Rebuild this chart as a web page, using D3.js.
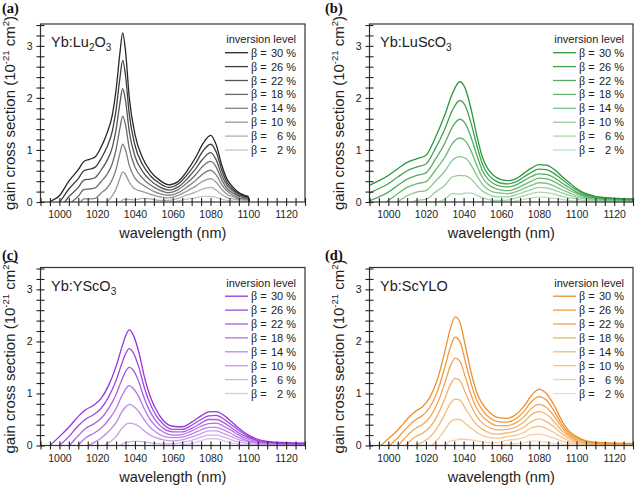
<!DOCTYPE html>
<html><head><meta charset="utf-8">
<script src="https://cdn.jsdelivr.net/npm/d3@7"></script>
<style>body{margin:0;background:#fff} svg{display:block}</style>
</head><body>
<svg id="chart" width="636" height="486"></svg>
<script>
// ---------------- DATA ----------------
const betas = [30, 26, 22, 18, 14, 10, 6, 2];
const xTickValues = [990,995,1000,1005,1010,1015,1020,1025,1030,1035,1040,1045,1050,1055,1060,1065,1070,1075,1080,1085,1090,1095,1100,1105,1110,1115,1120,1125,1130];
const xTickLabels = [1000, 1020, 1040, 1060, 1080, 1100, 1120];
const yTickValues = [0,0.2,0.4,0.6,0.8,1,1.2,1.4,1.6,1.8,2,2.2,2.4,2.6,2.8,3,3.2,3.4];
const yTickLabels = [0, 1, 2, 3];
const panelLetters = ["(a)", "(b)", "(c)", "(d)"];
// host names: [text, isSubscript]
const hostA = [["Yb:Lu",0],["2",1],["O",0],["3",1]];
const hostB = [["Yb:LuScO",0],["3",1]];
const hostC = [["Yb:YScO",0],["3",1]];
const hostD = [["Yb:ScYLO",0]];

// each row: gain at one wavelength for beta = 30,26,22,18,14,10,6,2 %
const wlA = [990,995,1000,1005,1010,1013,1016,1019,1022,1025,1028,1030,1032,1033.5,1035,1037,1040,1044,1048,1053,1058,1063,1068,1072,1076,1080,1083,1086,1089,1092,1095,1098,1100,1100.5];
const gainA = [
 [-0.2,-0.28,-0.36,-0.44,-0.52,-0.6,-0.68,-0.76],
 [0,-0.1,-0.2,-0.3,-0.4,-0.5,-0.6,-0.7],
 [0.12,0,-0.12,-0.24,-0.36,-0.48,-0.6,-0.72],
 [0.4,0.25,0.1,-0.05,-0.2,-0.35,-0.5,-0.65],
 [0.62,0.45,0.28,0.11,-0.06,-0.23,-0.4,-0.57],
 [0.78,0.6,0.42,0.24,0.06,-0.12,-0.3,-0.48],
 [0.82,0.63,0.44,0.25,0.06,-0.13,-0.32,-0.51],
 [0.87,0.67,0.47,0.27,0.07,-0.13,-0.33,-0.53],
 [1.05,0.83,0.61,0.39,0.17,-0.05,-0.27,-0.49],
 [1.3,1.04,0.78,0.52,0.26,0,-0.26,-0.52],
 [1.67,1.36,1.05,0.74,0.43,0.12,-0.19,-0.5],
 [2.15,1.77,1.39,1.01,0.63,0.25,-0.13,-0.51],
 [2.85,2.37,1.89,1.41,0.93,0.45,-0.03,-0.51],
 [3.25,2.72,2.18,1.65,1.11,0.58,0.04,-0.5],
 [2.9,2.43,1.95,1.48,1.0,0.53,0.05,-0.43],
 [2.0,1.68,1.35,1.03,0.7,0.38,0.05,-0.28],
 [1.3,1.09,0.88,0.67,0.46,0.25,0.04,-0.17],
 [0.85,0.72,0.59,0.46,0.33,0.2,0.07,-0.06],
 [0.6,0.51,0.42,0.33,0.24,0.15,0.06,-0.03],
 [0.42,0.36,0.29,0.23,0.16,0.1,0.03,-0.04],
 [0.33,0.28,0.23,0.18,0.13,0.08,0.03,-0.02],
 [0.4,0.35,0.29,0.24,0.18,0.13,0.07,0.02],
 [0.62,0.54,0.46,0.38,0.3,0.22,0.14,0.06],
 [0.85,0.74,0.63,0.52,0.41,0.3,0.19,0.08],
 [1.12,0.98,0.83,0.69,0.54,0.4,0.25,0.11],
 [1.28,1.11,0.95,0.78,0.61,0.45,0.28,0.11],
 [1.1,0.96,0.81,0.67,0.52,0.38,0.23,0.09],
 [0.7,0.61,0.51,0.42,0.33,0.24,0.14,0.05],
 [0.42,0.36,0.31,0.25,0.2,0.14,0.08,0.03],
 [0.28,0.24,0.21,0.17,0.13,0.1,0.06,0.02],
 [0.18,0.16,0.13,0.11,0.08,0.06,0.04,0.01],
 [0.13,0.11,0.1,0.08,0.06,0.05,0.03,0.01],
 [0.1,0.09,0.07,0.06,0.05,0.04,0.02,0.01],
 [0,0,0,0,0,0,0,0]
];

const wlB = [990,995,1000,1005,1010,1015,1020,1025,1030,1034,1038,1041,1044,1047,1050,1053,1056,1060,1064,1068,1072,1076,1080,1084,1088,1092,1096,1100,1105,1110,1120,1130];
const gainB = [
 [0.32,0.17,0.02,-0.13,-0.28,-0.43,-0.58,-0.73],
 [0.41,0.26,0.1,-0.06,-0.21,-0.37,-0.52,-0.68],
 [0.51,0.35,0.19,0.03,-0.13,-0.29,-0.45,-0.61],
 [0.64,0.48,0.32,0.16,0,-0.16,-0.32,-0.48],
 [0.76,0.6,0.44,0.28,0.12,-0.04,-0.2,-0.36],
 [0.83,0.67,0.51,0.35,0.19,0.03,-0.13,-0.29],
 [0.9,0.73,0.56,0.39,0.22,0.05,-0.12,-0.29],
 [1.24,1.03,0.82,0.61,0.4,0.19,-0.02,-0.23],
 [1.67,1.4,1.13,0.86,0.59,0.32,0.05,-0.22],
 [2.08,1.76,1.44,1.12,0.8,0.48,0.16,-0.16],
 [2.31,1.95,1.59,1.23,0.87,0.51,0.15,-0.21],
 [2.17,1.84,1.5,1.17,0.84,0.5,0.17,-0.16],
 [1.78,1.51,1.24,0.98,0.71,0.44,0.17,-0.1],
 [1.28,1.09,0.9,0.7,0.51,0.32,0.13,-0.06],
 [0.86,0.73,0.6,0.47,0.34,0.21,0.08,-0.05],
 [0.63,0.53,0.44,0.34,0.24,0.15,0.05,-0.05],
 [0.51,0.43,0.35,0.27,0.19,0.11,0.03,-0.05],
 [0.43,0.36,0.3,0.23,0.17,0.1,0.03,-0.03],
 [0.41,0.35,0.29,0.22,0.16,0.1,0.04,-0.02],
 [0.45,0.39,0.33,0.26,0.2,0.14,0.08,0.02],
 [0.55,0.48,0.41,0.33,0.26,0.19,0.12,0.05],
 [0.65,0.57,0.49,0.4,0.32,0.24,0.16,0.08],
 [0.72,0.63,0.54,0.46,0.37,0.28,0.19,0.1],
 [0.71,0.62,0.53,0.45,0.36,0.27,0.18,0.09],
 [0.63,0.55,0.47,0.39,0.31,0.23,0.15,0.07],
 [0.5,0.44,0.37,0.31,0.24,0.18,0.11,0.05],
 [0.38,0.33,0.28,0.23,0.18,0.13,0.08,0.03],
 [0.26,0.23,0.19,0.16,0.12,0.09,0.06,0.02],
 [0.16,0.14,0.12,0.1,0.08,0.06,0.03,0.01],
 [0.11,0.1,0.08,0.07,0.05,0.04,0.03,0.01],
 [0.075,0.065,0.055,0.045,0.035,0.025,0.015,0.005],
 [0.06,0.052,0.044,0.036,0.028,0.02,0.012,0.004]
];

const wlC = [990,995,1000,1005,1010,1014,1018,1022,1026,1030,1033,1035,1037,1039,1042,1045,1048,1051,1055,1060,1065,1070,1075,1079,1083,1087,1091,1095,1100,1105,1110,1120,1130];
const gainC = [
 [-0.15,-0.3,-0.45,-0.6,-0.75,-0.9,-1.05,-1.2],
 [0,-0.16,-0.32,-0.48,-0.64,-0.8,-0.96,-1.12],
 [0.17,0,-0.17,-0.34,-0.51,-0.68,-0.85,-1.02],
 [0.35,0.17,-0.01,-0.19,-0.37,-0.55,-0.73,-0.91],
 [0.56,0.38,0.19,0.01,-0.18,-0.37,-0.55,-0.74],
 [0.69,0.51,0.33,0.15,-0.03,-0.21,-0.39,-0.57],
 [0.77,0.59,0.41,0.23,0.05,-0.13,-0.31,-0.49],
 [0.9,0.71,0.52,0.33,0.14,-0.05,-0.24,-0.43],
 [1.15,0.93,0.71,0.49,0.27,0.05,-0.17,-0.39],
 [1.52,1.25,0.98,0.71,0.44,0.17,-0.1,-0.37],
 [1.88,1.57,1.26,0.95,0.64,0.33,0.02,-0.29],
 [2.1,1.76,1.42,1.08,0.74,0.4,0.06,-0.28],
 [2.22,1.86,1.5,1.15,0.79,0.43,0.07,-0.29],
 [2.13,1.79,1.45,1.1,0.76,0.42,0.08,-0.26],
 [1.8,1.51,1.23,0.94,0.65,0.37,0.08,-0.21],
 [1.32,1.11,0.9,0.7,0.49,0.28,0.07,-0.14],
 [0.95,0.8,0.65,0.5,0.35,0.2,0.05,-0.1],
 [0.7,0.59,0.48,0.37,0.26,0.15,0.04,-0.07],
 [0.48,0.41,0.33,0.26,0.18,0.11,0.03,-0.05],
 [0.37,0.31,0.26,0.2,0.15,0.09,0.03,-0.02],
 [0.36,0.31,0.26,0.21,0.16,0.11,0.06,0.01],
 [0.45,0.39,0.33,0.28,0.22,0.16,0.1,0.04],
 [0.57,0.5,0.43,0.37,0.3,0.23,0.16,0.09],
 [0.645,0.57,0.5,0.42,0.35,0.28,0.2,0.13],
 [0.65,0.58,0.5,0.43,0.35,0.28,0.2,0.13],
 [0.58,0.51,0.44,0.37,0.3,0.23,0.16,0.09],
 [0.46,0.4,0.34,0.29,0.23,0.17,0.11,0.05],
 [0.33,0.29,0.24,0.2,0.15,0.11,0.07,0.02],
 [0.2,0.17,0.15,0.12,0.09,0.07,0.04,0.01],
 [0.12,0.1,0.09,0.07,0.06,0.04,0.02,0.01],
 [0.08,0.07,0.06,0.05,0.04,0.03,0.01,0.003],
 [0.055,0.048,0.041,0.034,0.027,0.02,0.013,0.006],
 [0.045,0.039,0.033,0.027,0.021,0.015,0.009,0.003]
];

const wlD = [990,996,1000,1004,1008,1012,1015,1018,1022,1026,1030,1033,1035.5,1038,1041,1044,1047,1050,1054,1058,1063,1068,1072,1076,1080,1084,1088,1092,1096,1100,1105,1110,1120,1130];
const gainD = [
 [-0.2,-0.33,-0.46,-0.59,-0.72,-0.85,-0.98,-1.11],
 [0,-0.14,-0.28,-0.42,-0.56,-0.7,-0.84,-0.98],
 [0.13,-0.02,-0.16,-0.31,-0.45,-0.6,-0.74,-0.89],
 [0.26,0.11,-0.04,-0.19,-0.34,-0.49,-0.64,-0.79],
 [0.42,0.27,0.11,-0.05,-0.2,-0.36,-0.51,-0.67],
 [0.58,0.42,0.26,0.1,-0.06,-0.22,-0.38,-0.54],
 [0.67,0.51,0.34,0.18,0.01,-0.16,-0.32,-0.49],
 [0.74,0.57,0.4,0.23,0.06,-0.11,-0.28,-0.45],
 [0.92,0.73,0.54,0.35,0.16,-0.03,-0.22,-0.41],
 [1.26,1.03,0.8,0.57,0.34,0.11,-0.12,-0.35],
 [1.8,1.5,1.2,0.9,0.6,0.3,0,-0.3],
 [2.25,1.89,1.53,1.17,0.81,0.45,0.09,-0.27],
 [2.47,2.08,1.68,1.29,0.89,0.5,0.1,-0.3],
 [2.37,2.0,1.62,1.25,0.87,0.5,0.12,-0.26],
 [1.9,1.6,1.31,1.01,0.71,0.42,0.12,-0.18],
 [1.4,1.19,0.97,0.76,0.54,0.33,0.11,-0.11],
 [1.02,0.87,0.71,0.56,0.4,0.25,0.09,-0.07],
 [0.8,0.68,0.56,0.43,0.31,0.19,0.07,-0.05],
 [0.63,0.53,0.44,0.34,0.24,0.15,0.05,-0.05],
 [0.54,0.46,0.38,0.3,0.22,0.14,0.06,-0.02],
 [0.52,0.45,0.38,0.31,0.24,0.17,0.1,0.03],
 [0.6,0.52,0.44,0.36,0.28,0.2,0.12,0.04],
 [0.75,0.65,0.55,0.45,0.35,0.25,0.15,0.05],
 [0.96,0.84,0.71,0.59,0.46,0.34,0.21,0.09],
 [1.08,0.94,0.79,0.65,0.51,0.37,0.22,0.08],
 [1.0,0.87,0.73,0.6,0.46,0.33,0.19,0.06],
 [0.78,0.67,0.57,0.46,0.36,0.25,0.14,0.04],
 [0.49,0.42,0.36,0.29,0.23,0.16,0.09,0.03],
 [0.28,0.24,0.2,0.17,0.13,0.09,0.05,0.01],
 [0.17,0.15,0.12,0.1,0.08,0.06,0.03,0.01],
 [0.09,0.08,0.07,0.05,0.04,0.03,0.02,0.01],
 [0.065,0.057,0.048,0.04,0.031,0.023,0.014,0.006],
 [0.045,0.039,0.033,0.027,0.021,0.015,0.009,0.003],
 [0.04,0.035,0.03,0.025,0.02,0.015,0.01,0.005]
];

// ---------------- STYLE / LAYOUT ----------------
const palettes = [
  ["#262626", "#c6c6c6"],
  ["#2b973b", "#bfe2c1"],
  ["#9533dc", "#dec3f4"],
  ["#eb902d", "#f8dab5"]
];
const layouts = [
  {left: 40.5, right: 305, top: 24, bottom: 202, letterX: 2, letterY: 13},
  {left: 369.5, right: 633, top: 24, bottom: 202, letterX: 325, letterY: 13},
  {left: 40.5, right: 305, top: 267.5, bottom: 445.5, letterX: 2, letterY: 260},
  {left: 369.5, right: 633, top: 267.5, bottom: 445.5, letterX: 325, letterY: 260}
];
const panelsData = [
  {wl: wlA, gain: gainA, host: hostA},
  {wl: wlB, gain: gainB, host: hostB},
  {wl: wlC, gain: gainC, host: hostC},
  {wl: wlD, gain: gainD, host: hostD}
];

const SANS = "'Liberation Sans', Arial, Helvetica, sans-serif";
const SERIF = "'Liberation Serif', 'Times New Roman', serif";
const svg = d3.select("#chart");

panelsData.forEach((pd, pi) => {
  const L = layouts[pi];
  const x = d3.scaleLinear().domain([990, 1130]).range([L.left, L.right]);
  const y = d3.scaleLinear().domain([0, 3.42]).range([L.bottom, L.top]);
  const col = d3.interpolateRgb(palettes[pi][0], palettes[pi][1]);
  const g = svg.append("g");

  // clip
  const cid = "clip" + pi;
  svg.append("clipPath").attr("id", cid).append("rect")
    .attr("x", L.left).attr("y", L.top)
    .attr("width", L.right - L.left).attr("height", L.bottom - L.top);

  // curves (lightest first)
  const line = d3.line().x(d => x(d[0])).y(d => y(d[1])).curve(d3.curveMonotoneX);
  const series = betas.map((b, k) => pd.wl.map((w, i) => [w, pd.gain[i][k]]));
  const cg = g.append("g").attr("clip-path", `url(#${cid})`);
  for (let k = betas.length - 1; k >= 0; k--) {
    cg.append("path").attr("d", line(series[k]))
      .attr("fill", "none").attr("stroke", col(k / (betas.length - 1)))
      .attr("stroke-width", 1.3).attr("stroke-linejoin", "round");
  }

  // frame
  g.append("rect").attr("x", L.left).attr("y", L.top)
    .attr("width", L.right - L.left).attr("height", L.bottom - L.top)
    .attr("fill", "none").attr("stroke", "#333").attr("stroke-width", 1.2);

  // x axis
  const xa = g.append("g").attr("transform", `translate(0,${L.bottom})`)
    .call(d3.axisBottom(x).tickValues(xTickValues).tickSize(4).tickPadding(5)
      .tickFormat(d => xTickLabels.includes(d) ? d : ""));
  xa.select(".domain").remove();
  xa.selectAll(".tick line").attr("y1", -4).attr("stroke", "#222").attr("stroke-width", 1.1);
  xa.selectAll("text").attr("font-family", SANS).attr("font-size", 10.5).attr("fill", "#222");

  // y axis
  const ya = g.append("g").attr("transform", `translate(${L.left},0)`)
    .call(d3.axisLeft(y).tickValues(yTickValues).tickSize(4).tickPadding(4)
      .tickFormat(d => { const r = Math.round(d); return (Math.abs(d - r) < 1e-6 && yTickLabels.includes(r)) ? r : ""; }));
  ya.select(".domain").remove();
  ya.selectAll(".tick line").attr("x1", 4).attr("stroke", "#222").attr("stroke-width", 1.1);
  ya.selectAll("text").attr("font-family", SANS).attr("font-size", 10.5).attr("fill", "#222");

  // axis titles
  g.append("text").attr("x", (L.left + L.right) / 2).attr("y", L.bottom + 36)
    .attr("text-anchor", "middle").attr("font-family", SANS).attr("font-size", 14.5)
    .attr("fill", "#222").text("wavelength (nm)");
  const yt = g.append("text")
    .attr("transform", `translate(${L.left - 26},${(L.top + L.bottom) / 2}) rotate(-90)`)
    .attr("text-anchor", "middle").attr("font-family", SANS).attr("font-size", 15).attr("fill", "#222");
  yt.append("tspan").text("gain cross section (10");
  yt.append("tspan").attr("font-size", 9.5).attr("dy", -6).text("-21");
  yt.append("tspan").attr("dy", 6).text(" cm");
  yt.append("tspan").attr("font-size", 9.5).attr("dy", -6).text("2");
  yt.append("tspan").attr("dy", 6).text(")");

  // panel letter
  g.append("text").attr("x", L.letterX).attr("y", L.letterY)
    .attr("font-family", SERIF).attr("font-weight", "bold").attr("font-size", 14.5)
    .attr("fill", "#111").text(panelLetters[pi]);

  // host label
  const ht = g.append("text").attr("x", L.left + 10.5).attr("y", L.top + 23)
    .attr("font-family", SANS).attr("font-size", 14.5).attr("fill", "#222");
  let sub = 0;
  pd.host.forEach(([t, s]) => {
    const ts = ht.append("tspan").text(t);
    if (s && !sub) { ts.attr("dy", 4).attr("font-size", 10); sub = 1; }
    else if (!s && sub) { ts.attr("dy", -4); sub = 0; }
    else if (s) ts.attr("font-size", 10);
  });

  // legend
  const R = L.right;
  g.append("text").attr("x", R - 9).attr("y", L.top + 19)
    .attr("text-anchor", "end").attr("font-family", SANS).attr("font-size", 11)
    .attr("fill", "#222").text("inversion level");
  betas.forEach((b, k) => {
    const cy = L.top + 28.7 + k * 13.9;
    g.append("line").attr("x1", R - 80).attr("x2", R - 57).attr("y1", cy).attr("y2", cy)
      .attr("stroke", col(k / (betas.length - 1))).attr("stroke-width", 1.3);
    g.append("text").attr("x", R - 54).attr("y", cy + 4)
      .attr("font-family", SANS).attr("font-size", 11).attr("fill", "#222")
      .call(t => { t.append("tspan").attr("font-family", SERIF).attr("font-size", 12).text("β"); t.append("tspan").text(" ="); });
    g.append("text").attr("x", R - 9).attr("y", cy + 4).attr("text-anchor", "end")
      .attr("font-family", SANS).attr("font-size", 11).attr("fill", "#222")
      .text(b + " %");
  });
});
</script>
</body></html>
